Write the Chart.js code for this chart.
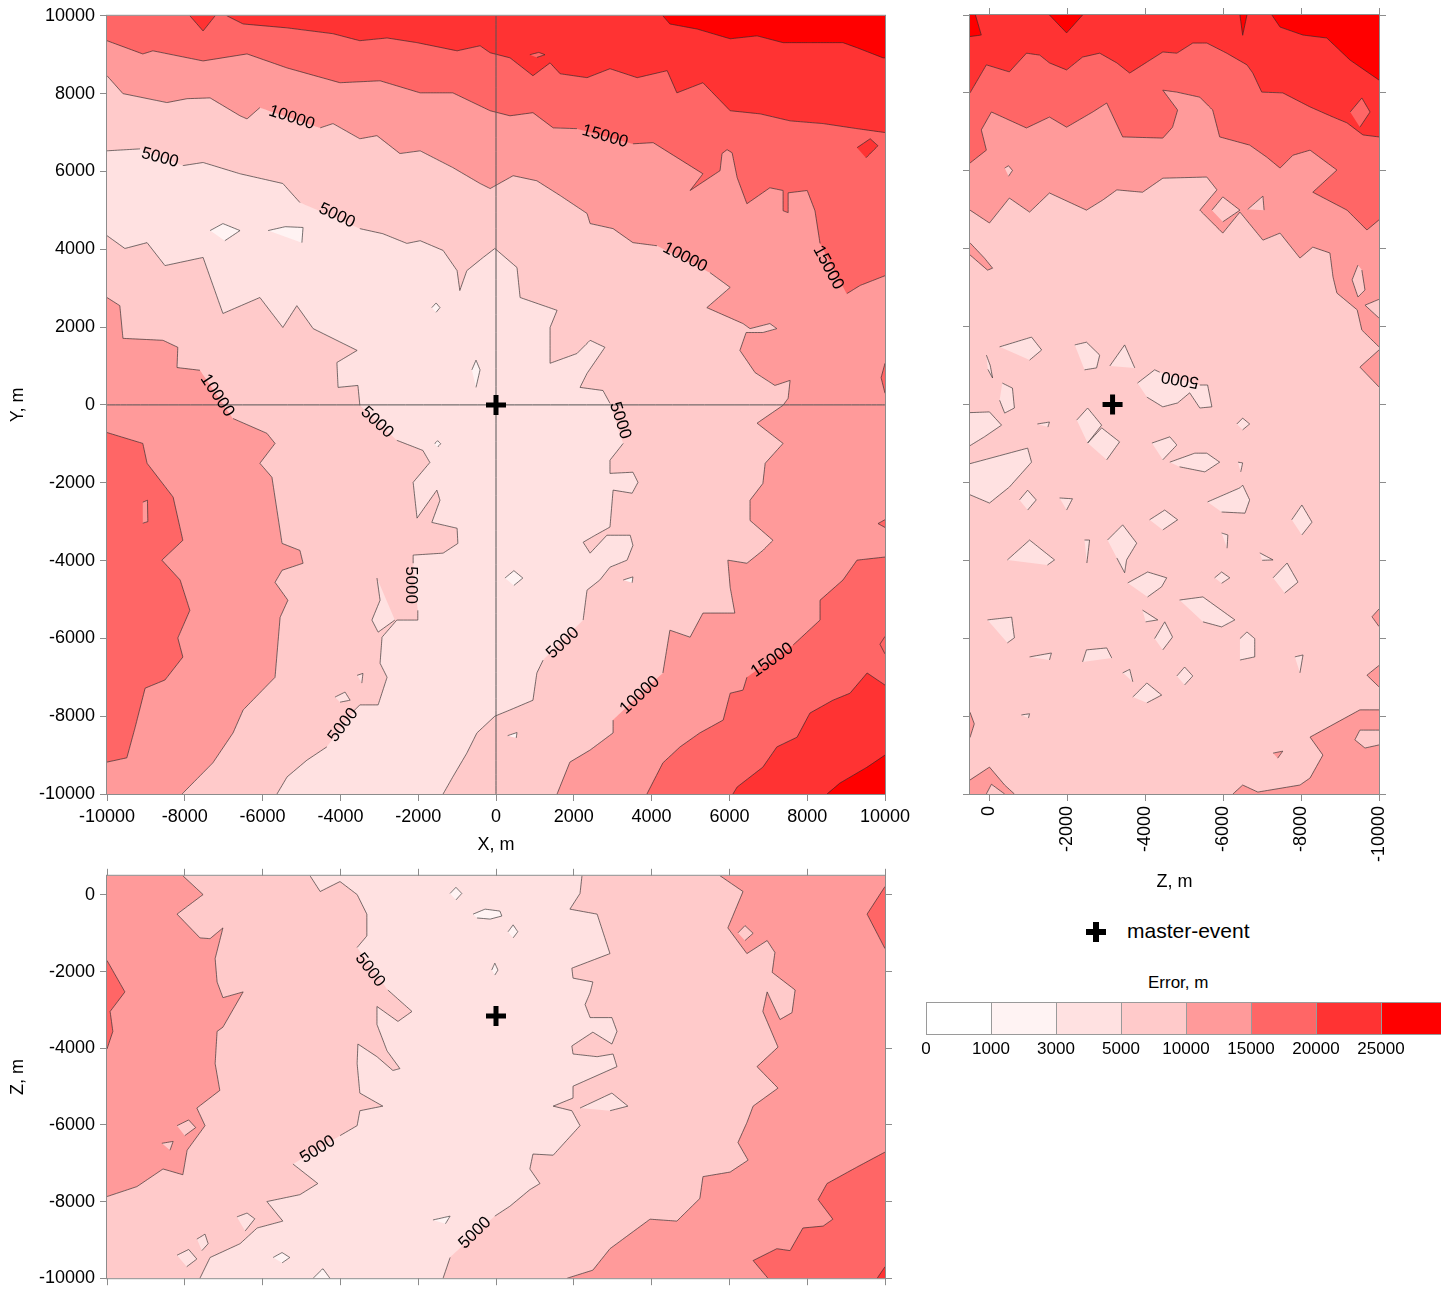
<!DOCTYPE html>
<html>
<head>
<meta charset="utf-8">
<script src="https://cdn.jsdelivr.net/npm/chart.js@4.4.1/dist/chart.umd.min.js"></script>
<style>
  html, body { margin: 0; padding: 0; background: #fff; overflow: hidden; }
  body { width: 1441px; height: 1292px; position: relative; font-family: 'Liberation Sans', Arial, sans-serif; color: #000; }
  canvas { position: absolute; }
  .swatch { position: absolute; top: 1002px; height: 33px; box-sizing: border-box; border: 1px solid #9a9a9a; }
  .binlabel { position: absolute; top: 1039px; width: 70px; text-align: center; font-size: 17px; line-height: 20px; }
  .txt { position: absolute; white-space: nowrap; }
  .bar { position: absolute; background: #000; }
</style>
</head>
<body>
<canvas id="xy" width="920" height="860" style="left:0;top:0"></canvas>
<canvas id="zy" width="480" height="900" style="left:930px;top:0"></canvas>
<canvas id="xz" width="920" height="434" style="left:0;top:860px"></canvas>
<div id="legend"></div>
<script>
// error classes (m) and their fill colours
const levels = [0, 1000, 3000, 5000, 10000, 15000, 20000, 25000];
const levelColors = ['#ffffff', '#fff3f3', '#ffe1e1', '#ffcaca', '#ff9a9a', '#ff6666', '#ff3333', '#ff0000'];

const gridTicks = [-10000, -8000, -6000, -4000, -2000, 0, 2000, 4000, 6000, 8000, 10000];
const depthTicks = [0, -2000, -4000, -6000, -8000, -10000];
const masterEvent = { x: 0, y: 0, z: -3160 };

// ---------- X-Y plane (map view), polygons in metres ----------
const xyAbove5000East = [[-10500,6530],[-10000,6530],[-9150,6580],[-8050,6150],[-7530,6230],[-6580,5940],[-5480,5690],[-5040,5200],[-3500,4530],[-2910,4400],[-2290,4150],[-1950,4220],[-1360,3970],[-1000,3450],[-930,2940],[-750,3450],[-330,3790],[-30,4020],[540,3530],[620,2760],[1570,2430],[1390,1990],[1390,1070],[2080,1320],[2420,1660],[2800,1480],[2340,810],[2160,450],[2750,370],[2930,40],[3270,-990],[2930,-1420],[2930,-1760],[3520,-1730],[3650,-1990],[3500,-2270],[3010,-2190],[2930,-3140],[2550,-3350],[2240,-3530],[2420,-3810],[2850,-3350],[3450,-3350],[3520,-3610],[3370,-3990],[2930,-4170],[2670,-4500],[2340,-4760],[2240,-5530],[1210,-6560],[1050,-6890],[950,-7590],[360,-7840],[-30,-8000],[-490,-8430],[-750,-8950],[-1110,-9560],[-1360,-10000],[-1360,-10500],[10500,-10500],[10500,10500],[-10500,10500]];
const xyAbove5000West = [[-10500,4350],[-10000,4350],[-9540,4020],[-8970,4170],[-8510,3580],[-7530,3790],[-7020,2350],[-6070,2760],[-5480,1990],[-5120,2550],[-4700,1960],[-3570,1400],[-4090,1090],[-4060,450],[-3550,500],[-3500,-10],[-2550,-910],[-1880,-1170],[-1700,-1480],[-2130,-1990],[-2030,-2910],[-1520,-2190],[-1440,-2450],[-1650,-3020],[-1000,-3170],[-980,-3560],[-1360,-3810],[-2130,-3860],[-2130,-4070],[-2010,-5280],[-2010,-5530],[-2550,-5530],[-2930,-5970],[-2980,-6640],[-2800,-7000],[-3030,-7710],[-3500,-7710],[-3680,-7890],[-4350,-8790],[-4860,-9130],[-5370,-9560],[-5630,-10000],[-5630,-10500],[-10500,-10500]];
const xyAbove10000East = [[-10500,8460],[-10000,8460],[-9590,8000],[-8460,7770],[-7940,7870],[-7350,7890],[-6580,7430],[-6400,7350],[-6070,7640],[-4520,7120],[-4190,7230],[-3500,6840],[-3060,6920],[-2470,6460],[-1950,6530],[-1110,6100],[-410,5690],[-150,5560],[440,5890],[1050,5760],[1650,5380],[2340,4920],[2420,4660],[3010,4530],[3520,4170],[4140,4090],[5500,3400],[6020,3020],[5420,2500],[6350,2090],[6530,1960],[7040,2090],[7220,1960],[6860,1860],[6430,1860],[6270,1400],[6660,830],[7170,500],[7560,630],[7510,170],[7380,-10],[6710,-470],[7380,-990],[6920,-1500],[6860,-2020],[6530,-2450],[6530,-2970],[7120,-3480],[6860,-3740],[6450,-4070],[5960,-3990],[6020,-4690],[6140,-5350],[5320,-5350],[4990,-5970],[4470,-5790],[4290,-6890],[3010,-8100],[3010,-8430],[2420,-8870],[1900,-9180],[1570,-10000],[1570,-10500],[10500,-10500],[10500,10500],[-10500,10500]];
const xyAbove10000West = [[-10500,2760],[-10000,2760],[-9670,2550],[-9590,1710],[-8560,1660],[-8180,1480],[-8200,960],[-7610,890],[-6760,-350],[-5890,-730],[-5680,-990],[-6070,-1500],[-5760,-1860],[-5500,-3560],[-5040,-3740],[-4960,-4070],[-5500,-4250],[-5680,-4560],[-5350,-5020],[-5550,-5460],[-5680,-7000],[-6500,-7840],[-6760,-8430],[-7280,-9200],[-8070,-10000],[-8070,-10500],[-10500,-10500]];
const xyAbove15000North = [[-10500,9360],[-10000,9360],[-9080,9020],[-8820,9100],[-7530,8840],[-6400,9020],[-5370,8660],[-4010,8280],[-2980,8330],[-1950,8020],[-1110,8020],[-150,7560],[360,7430],[950,7510],[1470,7120],[2080,7100],[3520,6710],[4040,6740],[5320,5940],[4990,5510],[5760,6020],[5810,6460],[5940,6560],[6070,6480],[6200,5840],[6450,5170],[7040,5580],[7380,5510],[7380,4990],[7510,4940],[7510,5450],[8000,5510],[8200,4990],[8330,4150],[9020,2860],[9360,3070],[10000,3320],[10500,3320],[10500,10500],[-10500,10500]];
const xyAbove15000SouthEast = [[10500,-3910],[10000,-3910],[9280,-3990],[8920,-4500],[8330,-5020],[8330,-5530],[7640,-6170],[6450,-7000],[6350,-7330],[6020,-7410],[5840,-8100],[5240,-8430],[4730,-8790],[4290,-9200],[3880,-10000],[3880,-10500],[10500,-10500]];
const xyAbove15000West = [[-10500,-710],[-10000,-710],[-9080,-990],[-8970,-1500],[-8300,-2370],[-8050,-3480],[-8590,-3990],[-8120,-4500],[-7870,-5280],[-8180,-5990],[-8050,-6480],[-8510,-7070],[-9020,-7280],[-9280,-8300],[-9490,-9070],[-10000,-9180],[-10500,-9180]];
const xyEdge15000 = [
  [[10500,1070],[10000,1070],[9900,700],[10000,300],[10500,300]],
  [[10500,-2950],[10000,-2950],[9820,-3050],[10000,-3150],[10500,-3150]],
  [[10500,-5950],[10000,-5950],[9870,-6150],[10000,-6400],[10500,-6400]],
];
const xyAbove20000North = [[-6920,10500],[-6920,10000],[-6500,9790],[-5370,9690],[-4190,9540],[-3500,9360],[-2800,9430],[-2030,9310],[-1000,9100],[-410,9230],[-150,9050],[360,8920],[950,8460],[1390,8790],[1650,8510],[2340,8410],[2930,8640],[3630,8410],[4400,8590],[4650,8020],[5320,8280],[6020,7560],[6790,7480],[7560,7300],[8410,7230],[9280,7100],[10000,7000],[10500,7000],[10500,10500]];
const xyAbove20000Notch = [[-7870,10500],[-7870,10000],[-7530,9610],[-7220,10000],[-7220,10500]];
const xyAbove20000Spot = [[9280,6610],[9620,6840],[9820,6660],[9510,6350]];
const xyAbove20000SouthEast = [[10500,-7200],[10000,-7200],[9540,-6890],[9100,-7410],[8660,-7590],[8070,-7920],[7740,-8540],[7220,-8790],[6860,-9310],[6200,-9820],[6090,-10000],[6090,-10500],[10500,-10500]];
const xyAbove25000North = [[4290,10500],[4290,10000],[4470,9790],[5170,9660],[6020,9410],[6710,9485],[7380,9310],[8070,9310],[8920,9310],[9280,9180],[9950,8920],[10500,8920],[10500,10500]];
const xyAbove25000SouthEast = [[10500,-9000],[10000,-9000],[9540,-9310],[8840,-9720],[8510,-10000],[8510,-10500],[10500,-10500]];
const xyIsland15000 = [[870,9000],[1100,9060],[1260,9000],[1050,8930]];
const xyIsland10000 = [[-9080,-2500],[-8960,-2450],[-8950,-3000],[-9080,-3040]];
const xyIslands3000 = [
  [[-3060,-4450],[-2980,-5020],[-3190,-5530],[-3030,-5840],[-2600,-5530]],
  [[-4140,-7510],[-3880,-7380],[-3750,-7590],[-4010,-7640]],
  [[-3570,-6950],[-3420,-6900],[-3450,-7150]],
];
const xyIslands1000 = [
  [[-7350,4480],[-7020,4660],[-6580,4480],[-6970,4220]],
  [[-5860,4480],[-5420,4580],[-4960,4560],[-4990,4170]],
  [[-1650,2500],[-1540,2620],[-1440,2500],[-1540,2380]],
  [[-620,900],[-514,1150],[-410,900],[-514,450]],
  [[-1580,-1000],[-1500,-920],[-1420,-1000],[-1500,-1080]],
  [[230,-4450],[460,-4260],[690,-4450],[460,-4640]],
  [[3270,-4500],[3520,-4420],[3500,-4570]],
  [[300,-8500],[540,-8420],[520,-8560]],
];
// [value, x, y, angle in degrees]
const xyContourLabels = [
  [10000, -5250, 7380, 18], [15000, 2800, 6900, 16], [15000, 8540, 3530, 62],
  [10000, 4860, 3790, 27], [10000, 3700, -7460, -43], [15000, 7100, -6560, -35],
  [5000, -8640, 6350, 15], [5000, -4090, 4860, 25], [5000, 3190, -400, 72],
  [5000, 1720, -6120, -43], [5000, -3060, -450, 43], [5000, -2190, -4630, 90],
  [5000, -3930, -8230, -52], [10000, -7170, 240, 56],
];

// ---------- Z-Y plane (x = Z, y = Y) ----------
const zyAbove10000North = [[800,4990],[500,4990],[0,4660],[-510,5300],[-1030,4940],[-1540,5430],[-2490,4990],[-2910,5250],[-3270,5510],[-3930,5450],[-4450,5810],[-5580,5840],[-5840,5510],[-5400,4990],[-5990,4400],[-6430,4940],[-7020,4220],[-7460,4400],[-7970,3760],[-8300,4040],[-8740,3890],[-8820,3270],[-8920,2860],[-9440,2430],[-9560,1910],[-10000,1480],[-10500,1480],[-10500,10500],[800,10500]];
const zyAbove10000SouthEast = [[-6250,-10500],[-6250,-10000],[-6500,-9770],[-6890,-9950],[-7970,-9770],[-8230,-9590],[-8560,-9000],[-8230,-8540],[-9510,-7840],[-10000,-7840],[-10500,-7840],[-10500,-10500]];
const zyAbove10000SouthWest = [[800,-9640],[500,-9640],[0,-9310],[-390,-9770],[-640,-10000],[-640,-10500],[800,-10500]];
const zyEdge10000 = [
  [[800,4150],[500,4150],[130,3760],[-80,3500],[50,3450],[500,3840],[800,3840]],
  [[-10500,1400],[-10000,1400],[-9510,960],[-10000,450],[-10500,450]],
  [[-10500,-5250],[-10000,-5250],[-9820,-5450],[-10000,-5700],[-10500,-5700]],
  [[-10500,-6700],[-10000,-6700],[-9690,-6950],[-10000,-7250],[-10500,-7250]],
  [[-7280,-8950],[-7530,-8900],[-7400,-9080]],
  [[800,-7900],[500,-7900],[390,-8200],[500,-8550],[800,-8550]],
];
const zyAbove15000North = [[800,6200],[500,6200],[80,6530],[210,7050],[-50,7510],[-950,7100],[-1540,7380],[-1980,7120],[-2650,7510],[-3010,7740],[-3420,6870],[-4450,6840],[-4700,7120],[-4830,7560],[-4450,8070],[-4810,8020],[-5400,7890],[-5730,7560],[-5910,6870],[-6680,6660],[-7120,6350],[-7460,6070],[-7790,6400],[-8230,6530],[-8920,6020],[-8300,5450],[-9180,4990],[-9690,4480],[-10000,4740],[-10500,4740],[-10500,10500],[800,10500]];
const zyAbove20000North = [[800,8000],[500,8000],[80,8720],[-510,8540],[-950,9020],[-1290,8970],[-1540,8770],[-1980,8590],[-2390,8920],[-2830,9020],[-3270,8770],[-3600,8510],[-4040,8790],[-4450,9050],[-4810,9020],[-5220,9280],[-5580,9280],[-6090,9020],[-6610,8720],[-6760,8510],[-6990,8020],[-7530,8000],[-8230,7640],[-8820,7380],[-9180,7230],[-9590,6920],[-10000,6870],[-10500,6870],[-10500,10500],[800,10500]];
const zyAbove25000 = [
  [[800,10500],[800,9410],[210,9485],[360,10000],[360,10500]],
  [[-1540,10500],[-1540,10000],[-1980,9540],[-2390,10000],[-2390,10500]],
  [[-6430,10500],[-6430,10000],[-6500,9480],[-6610,10000],[-6610,10500]],
  [[-7250,10500],[-7250,10000],[-7460,9690],[-8050,9485],[-8660,9410],[-9260,8840],[-10000,8330],[-10500,8330],[-10500,10500]],
];
const zyIsland15000 = [[-9260,7510],[-9560,7870],[-9770,7510],[-9510,7120]];
const zyIslands5000 = [
  [[-5710,4990],[-5990,5330],[-6430,4990],[-5990,4690]],
  [[-6630,5010],[-7020,5350],[-7050,4990]],
  [[-9460,3580],[-9310,3200],[-9460,2760],[-9640,2940],[-9560,3450]],
  [[-10500,2700],[-10000,2700],[-9640,2550],[-10000,2220],[-10500,2220]],
  [[-390,6070],[-490,6130],[-590,6010],[-490,5860]],
  [[-10500,-8360],[-9510,-8360],[-9380,-8610],[-9640,-8820],[-10000,-8740],[-10500,-8740]],
  [[80,-10500],[80,-10000],[-50,-9750],[-390,-10000],[-390,-10500]],
];
const zyIslands3000 = [
  [[-260,1480],[-1080,1730],[-1340,1400],[-1030,1140]],
  [[80,1270],[-20,1000],[-80,680],[40,900]],
  [[-2190,1530],[-2490,1600],[-2830,1270],[-2750,940],[-2440,890]],
  [[-3090,990],[-3470,1530],[-3730,940]],
  [[-3800,550],[-4240,890],[-4370,830],[-5400,500],[-5600,500],[-5710,-60],[-5400,-90],[-5140,300],[-4830,40],[-4450,-60],[-4040,190]],
  [[-330,550],[-590,420],[-640,-90],[-390,-220],[-260,110]],
  [[800,-220],[0,-190],[-310,-530],[130,-830],[800,-1240]],
  [[800,-1600],[-980,-1120],[-1080,-1480],[-510,-2120],[0,-2530],[800,-2190]],
  [[-1230,-500],[-1540,-450],[-1500,-580]],
  [[-2240,-400],[-2520,-90],[-2880,-530],[-2520,-990]],
  [[-2520,-990],[-2880,-600],[-3340,-960],[-3010,-1420]],
  [[-4170,-990],[-4630,-830],[-4810,-1040],[-4450,-1420]],
  [[-4630,-1480],[-5270,-1250],[-5580,-1250],[-5910,-1480],[-5530,-1730],[-4880,-1600]],
  [[-6380,-1480],[-6500,-1500],[-6450,-1730]],
  [[-6350,-500],[-6500,-350],[-6680,-500],[-6500,-650]],
  [[-770,-2450],[-980,-2200],[-1200,-2450],[-980,-2710]],
  [[-1800,-2400],[-2130,-2420],[-1980,-2710]],
  [[-5600,-2500],[-6430,-2140],[-6500,-2070],[-6680,-2450],[-6560,-2790],[-5960,-2760]],
  [[-4110,-2960],[-4500,-2710],[-4830,-2960],[-4450,-3220]],
  [[-7760,-2960],[-8020,-2580],[-8280,-3020],[-8020,-3350]],
  [[-3030,-3480],[-3420,-3090],[-3780,-3560],[-3520,-3990],[-3470,-4320],[-3270,-3940]],
  [[-2440,-3480],[-2570,-3480],[-2500,-4070]],
  [[-460,-3990],[-1030,-3480],[-1670,-3990],[-1490,-4120]],
  [[-5960,-3300],[-6120,-3350],[-6100,-3690]],
  [[-6940,-3810],[-7280,-3990],[-7000,-4000]],
  [[-7280,-4450],[-7640,-4070],[-7920,-4560],[-7580,-4840]],
  [[-3550,-4580],[-4060,-4300],[-4550,-4450],[-4420,-4680],[-4060,-4940]],
  [[-5780,-4450],[-5960,-4300],[-6170,-4450],[-5960,-4590]],
  [[-4880,-5020],[-5480,-4940],[-6300,-5530],[-5960,-5710],[-5480,-5580]],
  [[-3930,-5280],[-4320,-5530],[-4010,-5580]],
  [[-4240,-6010],[-4500,-5580],[-4700,-5970],[-4450,-6300]],
  [[50,-5530],[-570,-5460],[-640,-5990],[-460,-6120]],
  [[-6430,-6010],[-6610,-5840],[-6810,-6010],[-6810,-6480],[-6430,-6560]],
  [[-1030,-6480],[-1590,-6380],[-1540,-6560]],
  [[-2390,-6610],[-2490,-6300],[-3010,-6250],[-3140,-6510]],
  [[-7840,-6480],[-8050,-6430],[-7970,-6890]],
  [[-3420,-6890],[-3600,-6800],[-3680,-7120]],
  [[-4810,-6970],[-5010,-6740],[-5220,-6970],[-5010,-7200]],
  [[-3680,-7510],[-4040,-7150],[-4420,-7460],[-4040,-7660]],
  [[-820,-7970],[-1030,-7940],[-1000,-8050]],
];
const zyContourLabels = [[5000, -4890, 650, 190]];

// ---------- X-Z plane (x = X, y = Z) ----------
const xzAbove5000West = [[-4780,1000],[-4780,500],[-4520,90],[-4010,350],[-3570,10],[-3320,-500],[-3320,-1070],[-3570,-1370],[-2780,-2480],[-2160,-3040],[-2520,-3300],[-3060,-2910],[-3060,-3380],[-2800,-4070],[-2470,-4530],[-2650,-4580],[-3060,-4220],[-3550,-3890],[-3570,-4400],[-3500,-5170],[-2910,-5510],[-3500,-5630],[-3570,-6020],[-4010,-6280],[-5220,-7020],[-4580,-7530],[-5040,-7820],[-5890,-8000],[-5480,-8510],[-6140,-8690],[-6580,-9100],[-7350,-9460],[-7610,-10000],[-7610,-10500],[-10500,-10500],[-10500,1000]];
const xzAbove5000East = [[-1360,-10500],[-1360,-10000],[-1180,-9460],[-30,-8380],[360,-8120],[870,-7690],[1130,-7530],[870,-7150],[950,-6760],[1470,-6790],[2160,-6020],[1950,-5630],[1470,-5510],[1980,-5300],[1980,-4990],[3110,-4480],[3010,-4150],[2600,-4220],[1980,-4150],[1950,-3940],[2490,-3580],[2980,-3890],[3110,-3560],[2980,-3200],[2420,-3200],[2290,-2860],[2420,-2550],[2490,-2270],[1980,-2170],[1950,-1910],[2930,-1530],[2600,-500],[1900,-370],[2160,40],[2210,500],[2210,1000],[10500,1000],[10500,-10500]];
const xzAbove10000West = [[-8050,1000],[-8050,500],[-7530,10],[-8200,-500],[-7610,-1120],[-7350,-1140],[-7020,-860],[-7220,-1660],[-7170,-2270],[-7020,-2680],[-6500,-2530],[-7020,-3450],[-7170,-3560],[-7220,-4400],[-7100,-5100],[-7690,-5560],[-7480,-6020],[-7940,-6660],[-8050,-7300],[-8560,-7150],[-9230,-7610],[-10000,-7870],[-10500,-7870],[-10500,1000]];
const xzAbove10000East = [[5760,1000],[5760,500],[6350,90],[5960,-860],[6450,-1530],[6970,-1190],[7170,-1500],[7100,-2020],[7690,-2480],[7610,-3070],[7300,-3250],[6970,-2530],[6860,-3040],[7250,-3970],[6710,-4480],[7250,-5040],[6610,-5510],[6450,-5940],[6220,-6460],[6480,-6920],[6020,-7230],[5320,-7350],[5240,-7920],[4650,-8510],[3960,-8460],[2930,-9230],[2490,-9790],[1830,-10000],[1830,-10500],[10500,-10500],[10500,1000]];
const xzAbove15000 = [
  [[-10500,-1710],[-10000,-1710],[-9540,-2530],[-9920,-3040],[-9850,-3560],[-10000,-4020],[-10500,-4020]],
  [[10500,-6710],[10000,-6710],[9280,-7100],[8510,-7530],[8280,-7950],[8660,-8460],[8410,-8640],[7890,-8690],[7560,-9280],[7220,-9230],[6610,-9540],[6990,-10000],[6990,-10500],[10500,-10500]],
  [[10500,300],[10000,220],[9540,-500],[10000,-1400],[10500,-1400]],
];
const xzAbove20000 = [[10500,-9700],[10000,-9700],[9800,-10000],[9800,-10500],[10500,-10500]];
const xzIslands5000 = [
  [[-8200,-6020],[-7900,-5870],[-7720,-6070],[-8000,-6280]],
  [[-8590,-6480],[-8300,-6430],[-8380,-6660]],
  [[6220,-990],[6400,-800],[6610,-1000],[6400,-1190]],
];
const xzIslands3000 = [
  [[2160,-5560],[2980,-5170],[3390,-5510],[2930,-5630]],
  [[-6660,-8400],[-6400,-8300],[-6200,-8450],[-6450,-8770]],
  [[-7690,-8980],[-7480,-8850],[-7400,-9100],[-7560,-9280]],
  [[-8200,-9400],[-7900,-9250],[-7690,-9500],[-7950,-9700]],
];
const xzIslands1000 = [
  [[-1180,40],[-1030,200],[-880,40],[-1030,-130]],
  [[-590,-500],[-280,-370],[100,-420],[150,-550],[-150,-630],[-490,-600]],
  [[310,-960],[440,-780],[560,-960],[440,-1120]],
  [[-110,-1960],[-30,-1780],[50,-1960],[-30,-2090]],
  [[-1620,-8480],[-1180,-8380],[-1300,-8580]],
  [[-5730,-9460],[-5500,-9330],[-5300,-9460],[-5500,-9600]],
  [[-4700,-10500],[-4700,-10000],[-4450,-9750],[-4270,-10000],[-4270,-10500]],
];
const xzContourLabels = [[5000, -3240, -1960, 52], [5000, -4580, -6640, -32], [5000, -540, -8820, -44]];

// ---------- drawing ----------
const FONT = "'Liberation Sans', Arial, Helvetica, sans-serif";
const LINE_COLOR = 'rgba(40,40,40,0.8)';
const FRAME_COLOR = '#8c8c8c';

const colorFor = (level) => levelColors[levels.indexOf(level)];
const toXY = (pts) => pts.map(([x, y]) => ({ x, y }));

const labelSets = { xy: xyContourLabels, zy: zyContourLabels, xz: xzContourLabels };
const panelBackground = { xy: colorFor(3000), zy: colorFor(5000), xz: colorFor(3000) };

// contour line is broken where a label sits on it
function hideUnderLabels(ctx) {
  const chart = ctx.chart;
  if (!chart || !chart.scales || !chart.scales.x) return LINE_COLOR;
  const mx = (ctx.p0.x + ctx.p1.x) / 2;
  const my = (ctx.p0.y + ctx.p1.y) / 2;
  for (const [, lx, ly] of labelSets[chart.canvas.id] || []) {
    const px = chart.scales.x.getPixelForValue(lx);
    const py = chart.scales.y.getPixelForValue(ly);
    if (Math.hypot(px - mx, py - my) < 14) return 'rgba(0,0,0,0)';
  }
  return LINE_COLOR;
}

// a tiny tension keeps Chart.js off its sorted-x fast path, which mangles vertical edges
const straight = { tension: 0.0001, capBezierPoints: false, pointRadius: 0, pointHoverRadius: 0, pointHitRadius: 0 };

function fillSet(level, pts) {
  return {
    ...straight,
    data: toXY(pts), showLine: true, fill: 'shape',
    backgroundColor: colorFor(level), borderColor: 'rgba(0,0,0,0)', borderWidth: 0.01,
  };
}

function lineSet(pts) {
  return {
    ...straight,
    data: toXY(pts), showLine: true, fill: false,
    borderColor: LINE_COLOR, borderWidth: 0.8,
    segment: { borderColor: hideUnderLabels },
  };
}

function markerSet(x, y) {
  return {
    data: [{ x, y }], showLine: false, pointStyle: 'cross',
    pointRadius: 10, pointHoverRadius: 10, borderWidth: 5,
    borderColor: '#000', backgroundColor: '#000',
  };
}

function buildDatasets(layers, extras) {
  const sets = [
    ...layers.map(([lv, pts]) => fillSet(lv, pts)),
    ...layers.map(([, pts]) => lineSet(pts)),
    ...extras,
  ];
  // first in the list is painted first
  sets.forEach((s, i) => { s.order = sets.length - i; });
  return sets;
}

const panelPlugin = {
  id: 'panel',
  beforeDatasetsDraw(chart) {
    const { ctx, chartArea: a } = chart;
    ctx.save();
    ctx.fillStyle = panelBackground[chart.canvas.id];
    ctx.fillRect(a.left, a.top, a.right - a.left, a.bottom - a.top);
    ctx.restore();
  },
  afterDraw(chart) {
    const { ctx, chartArea: a } = chart;
    ctx.save();
    ctx.strokeStyle = FRAME_COLOR;
    ctx.lineWidth = 1;
    ctx.strokeRect(a.left - 0.5, a.top - 0.5, a.right - a.left + 1, a.bottom - a.top + 1);
    ctx.restore();
  },
};

const contourLabelPlugin = {
  id: 'contourLabels',
  afterDatasetsDraw(chart) {
    const { ctx, scales } = chart;
    ctx.save();
    ctx.font = '17px ' + FONT;
    ctx.fillStyle = '#000';
    ctx.textAlign = 'center';
    ctx.textBaseline = 'middle';
    for (const [value, lx, ly, angle] of labelSets[chart.canvas.id] || []) {
      ctx.save();
      ctx.translate(scales.x.getPixelForValue(lx), scales.y.getPixelForValue(ly));
      ctx.rotate(angle * Math.PI / 180);
      ctx.fillText(String(value), 0, 0);
      ctx.restore();
    }
    ctx.restore();
  },
};

function axis(position, min, max, ticks, o = {}) {
  const vertical = position === 'left' || position === 'right';
  return {
    type: 'linear', position, min, max, reverse: !!o.reverse,
    afterBuildTicks: (s) => { s.ticks = ticks.map((v) => ({ value: v })); },
    afterFit: (s) => { if (vertical) s.width = o.size; else s.height = o.size; },
    ticks: {
      display: !!o.labels, autoSkip: false, color: '#000', padding: 5,
      font: { family: FONT, size: 18 },
      minRotation: o.rot || 0, maxRotation: o.rot || 0,
      callback: (v) => String(v),
    },
    grid: { drawOnChartArea: false, drawTicks: true, tickLength: 7, color: FRAME_COLOR },
    border: { display: false },
    title: o.title
      ? { display: true, text: o.title, color: '#000', font: { family: FONT, size: 18 }, padding: o.titlePad }
      : { display: false },
  };
}

function makeChart(id, datasets, scales, padding) {
  return new Chart(document.getElementById(id), {
    type: 'scatter',
    data: { datasets },
    options: {
      responsive: false, animation: false, devicePixelRatio: 1, events: [],
      layout: { padding },
      plugins: { legend: { display: false }, tooltip: { enabled: false } },
      scales,
    },
    plugins: [panelPlugin, contourLabelPlugin],
  });
}

// X-Y panel
const xyLayers = [
  [5000, xyAbove5000East], [5000, xyAbove5000West],
  [10000, xyAbove10000East], [10000, xyAbove10000West],
  [15000, xyAbove15000North], [15000, xyAbove15000SouthEast], [15000, xyAbove15000West],
  ...xyEdge15000.map((p) => [15000, p]),
  [20000, xyAbove20000North], [20000, xyAbove20000Notch], [20000, xyAbove20000Spot], [20000, xyAbove20000SouthEast],
  [25000, xyAbove25000North], [25000, xyAbove25000SouthEast],
  [15000, xyIsland15000], [10000, xyIsland10000],
  ...xyIslands3000.map((p) => [3000, p]),
  ...xyIslands1000.map((p) => [1000, p]),
];
const crossLine = (pts) => ({
  ...straight,
  data: toXY(pts), showLine: true, fill: false, borderColor: '#555', borderWidth: 1,
});
makeChart('xy', buildDatasets(xyLayers, [
  crossLine([[masterEvent.x, -10000], [masterEvent.x, 10000]]),
  crossLine([[-10000, masterEvent.y], [10000, masterEvent.y]]),
  markerSet(masterEvent.x, masterEvent.y),
]), {
  x: axis('bottom', -10000, 10000, gridTicks, { labels: true, size: 66, title: 'X, m', titlePad: { top: 0, bottom: 4 } }),
  y: axis('left', -10000, 10000, gridTicks, { labels: true, size: 107, title: 'Y, m', titlePad: { top: 7, bottom: 0 } }),
}, { top: 15, right: 35, left: 0, bottom: 0 });

// Z-Y panel
const zyLayers = [
  [10000, zyAbove10000North], [10000, zyAbove10000SouthEast], [10000, zyAbove10000SouthWest],
  ...zyEdge10000.map((p) => [10000, p]),
  [15000, zyAbove15000North],
  [20000, zyAbove20000North],
  ...zyAbove25000.map((p) => [25000, p]),
  [15000, zyIsland15000],
  ...zyIslands5000.map((p) => [5000, p]),
  ...zyIslands3000.map((p) => [3000, p]),
];
makeChart('zy', buildDatasets(zyLayers, [markerSet(masterEvent.z, masterEvent.y)]), {
  x: axis('bottom', -10000, 500, depthTicks, { labels: true, reverse: true, rot: 90, size: 106, title: 'Z, m', titlePad: { top: 0, bottom: 7 } }),
  y: axis('left', -10000, 10000, gridTicks, { size: 40 }),
  x2: axis('top', -10000, 500, depthTicks, { reverse: true, size: 15 }),
  y2: axis('right', -10000, 10000, gridTicks, { size: 31 }),
}, 0);

// X-Z panel
const xzLayers = [
  [5000, xzAbove5000West], [5000, xzAbove5000East],
  [10000, xzAbove10000West], [10000, xzAbove10000East],
  ...xzAbove15000.map((p) => [15000, p]),
  [20000, xzAbove20000],
  ...xzIslands5000.map((p) => [5000, p]),
  ...xzIslands3000.map((p) => [3000, p]),
  ...xzIslands1000.map((p) => [1000, p]),
];
makeChart('xz', buildDatasets(xzLayers, [markerSet(masterEvent.x, masterEvent.z)]), {
  x: axis('bottom', -10000, 10000, gridTicks, { size: 11 }),
  y: axis('left', -10000, 500, depthTicks, { labels: true, size: 107, title: 'Z, m', titlePad: { top: 7, bottom: 0 } }),
  x2: axis('top', -10000, 10000, gridTicks, { size: 14 }),
  y2: axis('right', -10000, 500, depthTicks, { size: 35 }),
}, 0);

// legend: master-event symbol and colour scale
const legend = document.getElementById('legend');
function addDiv(cls, css, text) {
  const d = document.createElement('div');
  d.className = cls;
  Object.assign(d.style, css);
  if (text !== undefined) d.textContent = text;
  legend.appendChild(d);
  return d;
}
addDiv('bar', { left: '1086px', top: '929px', width: '20px', height: '6px' });
addDiv('bar', { left: '1093px', top: '922px', width: '6px', height: '20px' });
addDiv('txt', { left: '1127px', top: '919px', fontSize: '21px', lineHeight: '24px' }, 'master-event');
addDiv('txt', { left: '1148px', top: '973px', fontSize: '17px', lineHeight: '20px' }, 'Error, m');
levels.forEach((lv, i) => {
  const left = 926 + 65 * i;
  addDiv('swatch', { left: left + 'px', width: (i === levels.length - 1 ? 62 : 66) + 'px', background: levelColors[i] });
  addDiv('binlabel', { left: (left - 35) + 'px' }, String(lv));
});
</script>
</body>
</html>
